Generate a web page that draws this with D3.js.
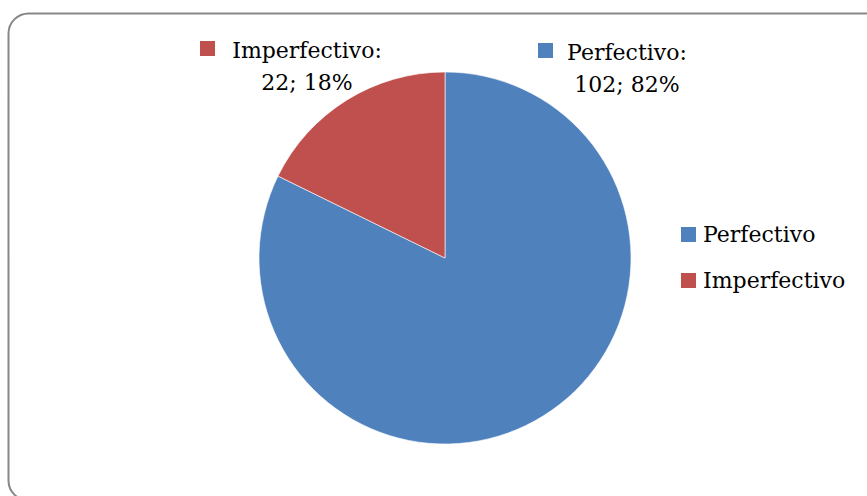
<!DOCTYPE html>
<html>
<head>
<meta charset="utf-8">
<script src="https://cdn.jsdelivr.net/npm/d3@7"></script>
<style>
  html, body { margin: 0; padding: 0; background: #fff; }
  svg { display: block; }
  text { font-family: "DejaVu Serif", "Liberation Serif", serif; fill: #000; }
</style>
</head>
<body>
<svg id="chart" width="867" height="496"></svg>
<script>
// Aspect counts
const categories = ["Perfectivo", "Imperfectivo"];
const values = [102, 22];
const colors = ["#4F81BD", "#C0504D"];

const svg = d3.select("#chart");
const W = 867, H = 496;

// Chart frame (rounded, runs past the right and bottom edges)
svg.append("rect")
  .attr("x", 8.5).attr("y", 13.5)
  .attr("width", W + 40).attr("height", 487)
  .attr("rx", 20).attr("ry", 20)
  .attr("fill", "#fff")
  .attr("stroke", "#878787")
  .attr("stroke-width", 2);

const cx = 445, cy = 258, r = 186;
const total = d3.sum(values);

const pie = d3.pie().sort(null).value(d => d.value);
const arcs = pie(categories.map((c, i) => ({ name: c, value: values[i], color: colors[i] })));
const arc = d3.arc().innerRadius(0).outerRadius(r);

const g = svg.append("g").attr("transform", `translate(${cx},${cy})`);
g.selectAll("path.slice")
  .data(arcs)
  .join("path")
  .attr("class", "slice")
  .attr("d", arc)
  .attr("fill", d => d.data.color)
  .attr("stroke", "#fff")
  .attr("stroke-width", 0.6);

// Data labels: "name:" / "value; pct%"
const fmtPct = v => Math.round(v / total * 100) + "%";
const labelPos = [
  { x: 627, y: 60, sq: [538, 43] },   // Perfectivo
  { x: 307, y: 58, sq: [200, 41] }    // Imperfectivo
];
const fs = 22;
arcs.forEach((a, i) => {
  const p = labelPos[i];
  svg.append("rect")
    .attr("x", p.sq[0]).attr("y", p.sq[1])
    .attr("width", 15).attr("height", 15)
    .attr("fill", a.data.color);
  const t = svg.append("text")
    .attr("text-anchor", "middle")
    .attr("font-size", fs);
  t.append("tspan").attr("x", p.x).attr("y", p.y).text(a.data.name + ":");
  t.append("tspan").attr("x", p.x).attr("y", p.y + 32)
    .text(a.data.value + "; " + fmtPct(a.data.value));
});

// Legend
const legend = svg.append("g").attr("transform", "translate(681,227)");
const item = legend.selectAll("g.item")
  .data(arcs)
  .join("g")
  .attr("class", "item")
  .attr("transform", (d, i) => `translate(0,${i * 46})`);
item.append("rect")
  .attr("width", 15).attr("height", 15)
  .attr("fill", d => d.data.color);
item.append("text")
  .attr("x", 22).attr("y", 15)
  .attr("font-size", fs)
  .text(d => d.data.name);
</script>
</body>
</html>
